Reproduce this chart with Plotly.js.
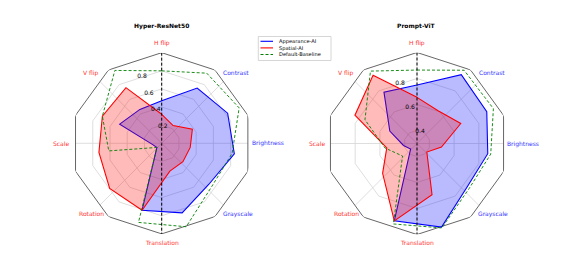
<!DOCTYPE html>
<html><head><meta charset="utf-8">
<script src="https://cdn.plot.ly/plotly-3.0.1.min.js"></script>
<style>html,body{margin:0;padding:0;background:#fff}#chart{width:565px;height:261px}</style>
</head><body><div id="chart"></div>
<script>
// ---- data ----
const axisLabels = ['H flip','Contrast','Brightness','Grayscale','Translation','Rotation','Scale','V flip'];
const axisColors = ['#ff3333','#3333ff','#3333ff','#3333ff','#ff3333','#ff3333','#ff3333','#ff3333'];
const axisAngles = [0,45,90,135,180,225,270,315];
const seriesNames = ['Appearance-AI','Spatial-AI','Default-Baseline'];
const hyperAppearance  = [0.47,0.725,0.80,0.81,0.69,0.80,0.77,0.07,0.10,0.51,0.445];
const hyperSpatial     = [0.32,0.233,0.372,0.318,0.31,0.32,0.77,0.76,0.70,0.72,0.73];
const hyperBaseline    = [0.80,0.92,0.94,0.785,0.73,0.96,0.91,0.07,0.59,0.72,0.956];
const promptAppearance = [0.75,0.93,0.89,0.85,0.81,0.97,0.92,0.365,0.405,0.53,0.77];
const promptSpatial    = [0.655,0.60,0.67,0.49,0.40,0.71,0.92,0.65,0.535,0.825,0.925];
const promptBaseline   = [0.865,0.97,0.946,0.873,0.83,0.977,0.945,0.447,0.548,0.74,0.962];
const hyperTicks = [0.2,0.4,0.6,0.8];
const promptTicks = [0.4,0.6,0.8];
const hyperRange = [0,1];
const promptRange = [0.3,1];
const titles = ['Hyper-ResNet50','Prompt-ViT'];

// ---- layout constants (pixel offsets of angular labels from each polar centre) ----
const W = 565, H = 261;
const frameSides = 10;
const labelOffsets = [[0,-100],[74.5,-70.6],[106,0],[76.3,70.3],[0,99.2],[-70.6,70.3],[-100.3,0],[-71.4,-70.6]];
const centers = [[161.7,143.3,90.6],[417,143.5,91]];

const traces = [];
function closeArr(a){ return a.concat([a[0]]); }
function dataTheta(n){ const t=[]; for(let i=0;i<n;i++) t.push(i*360/n); return t; }

function addPolar(sub, vals, ticks, range){
  const [rmin,rmax] = range;
  const ringTheta = []; for(let i=0;i<=frameSides;i++) ringTheta.push(i*360/frameSides);
  ticks.forEach(v=>{
    traces.push({type:'scatterpolar', subplot:sub, mode:'lines', r:ringTheta.map(()=>v), theta:ringTheta,
      line:{color:'#d6d6d6', width:0.8}, hoverinfo:'skip', showlegend:false, cliponaxis:false});
  });
  const step = 360/frameSides;
  axisAngles.forEach(a=>{
    const mid = step*Math.floor(a/step)+step/2;
    const f = Math.cos(Math.PI*step/2/180)/Math.cos((a-mid)*Math.PI/180);
    traces.push({type:'scatterpolar', subplot:sub, mode:'lines', r:[rmin, rmin+(rmax-rmin)*f], theta:[a,a],
      line:{color:'#d6d6d6', width:0.8}, hoverinfo:'skip', showlegend:false, cliponaxis:false});
  });
  traces.push({type:'scatterpolar', subplot:sub, mode:'lines', r:ringTheta.map(()=>rmax), theta:ringTheta,
    line:{color:'#555555', width:0.9}, hoverinfo:'skip', showlegend:false, cliponaxis:false});
  const th = closeArr(dataTheta(vals[0].length));
  traces.push({type:'scatterpolar', subplot:sub, mode:'lines', name:seriesNames[0], r:closeArr(vals[0]), theta:th,
    fill:'toself', fillcolor:'rgba(0,0,255,0.27)', line:{color:'#0000ff', width:1.1}, showlegend:false, cliponaxis:false});
  traces.push({type:'scatterpolar', subplot:sub, mode:'lines', name:seriesNames[1], r:closeArr(vals[1]), theta:th,
    fill:'toself', fillcolor:'rgba(255,0,0,0.27)', line:{color:'#ff0000', width:1.1}, showlegend:false, cliponaxis:false});
  traces.push({type:'scatterpolar', subplot:sub, mode:'lines', name:seriesNames[2], r:closeArr(vals[2]), theta:th,
    line:{color:'#008000', width:0.9, dash:'3px,2px'}, showlegend:false, cliponaxis:false});
  traces.push({type:'scatterpolar', subplot:sub, mode:'lines', r:[rmax,rmin,rmax], theta:[0,0,180],
    line:{color:'#000000', width:1, dash:'3px,2px'}, hoverinfo:'skip', showlegend:false, cliponaxis:false});
}
addPolar('polar',[hyperAppearance,hyperSpatial,hyperBaseline],hyperTicks,hyperRange);
addPolar('polar2',[promptAppearance,promptSpatial,promptBaseline],promptTicks,promptRange);

function polarLayout(c, ticks, range){
  const [cx,cy,R] = c;
  return {
    domain:{x:[(cx-R)/W,(cx+R)/W], y:[1-(cy+R)/H, 1-(cy-R)/H]},
    bgcolor:'rgba(0,0,0,0)',
    angularaxis:{rotation:90, direction:'clockwise', tickmode:'array', tickvals:axisAngles, ticktext:axisLabels,
      showticklabels:false, showgrid:false, showline:false, ticks:''},
    radialaxis:{range:range, tickmode:'array', tickvals:ticks, ticktext:ticks.map(t=>t.toFixed(1)),
      showgrid:false, showline:false, ticks:'', angle:112.5, tickangle:112.5,
      tickfont:{size:6, family:'DejaVu Sans', color:'#000'}}
  };
}

const annotations = [];
centers.forEach(c=>{
  axisLabels.forEach((l,i)=>{
    annotations.push({xref:'paper', yref:'paper', x:(c[0]+labelOffsets[i][0])/W, y:1-(c[1]+labelOffsets[i][1])/H,
      xanchor:'center', yanchor:'middle', text:l, showarrow:false, borderpad:0,
      font:{size:6, family:'DejaVu Sans', color:axisColors[i]}});
  });
});
// manual legend
const legTop = 41.3, legStep = 6.6;
const legColors = ['#0000ff','#ff0000','#008000'];
const shapes = [{type:'rect', xref:'paper', yref:'paper', x0:258.3/W, x1:331/W, y0:1-60.5/H, y1:1-36.5/H,
  line:{color:'#cccccc', width:0.8}, fillcolor:'rgba(255,255,255,0.8)'}];
seriesNames.forEach((n,i)=>{
  const y = legTop + i*legStep;
  shapes.push({type:'line', xref:'paper', yref:'paper', x0:260.5/W, x1:273/W, y0:1-y/H, y1:1-y/H,
    line:{color:legColors[i], width:1.1, dash: i===2?'3px,2px':'solid'}});
});
annotations.push({xref:'paper', yref:'paper', x:277.5/W, y:1-(legTop+legStep)/H, xanchor:'left', yanchor:'middle', align:'left',
  text:seriesNames.join('<br>'), showarrow:false, borderpad:0, font:{size:5.1, family:'DejaVu Sans', color:'#000'}});
titles.forEach((t,i)=>{
  annotations.push({xref:'paper', yref:'paper', x:centers[i][0]/W, y:1-25.7/H, xanchor:'center', yanchor:'middle',
    text:'<b>'+t+'</b>', showarrow:false, font:{size:6, family:'DejaVu Sans', color:'#000'}});
});

const layout = {
  width:W, height:H, margin:{l:0,r:0,t:0,b:0}, paper_bgcolor:'#fff', showlegend:false,
  font:{family:'DejaVu Sans'},
  polar: polarLayout(centers[0],hyperTicks,hyperRange),
  polar2: polarLayout(centers[1],promptTicks,promptRange),
  shapes:shapes, annotations:annotations
};
Plotly.newPlot('chart', traces, layout, {staticPlot:true});
</script></body></html>
